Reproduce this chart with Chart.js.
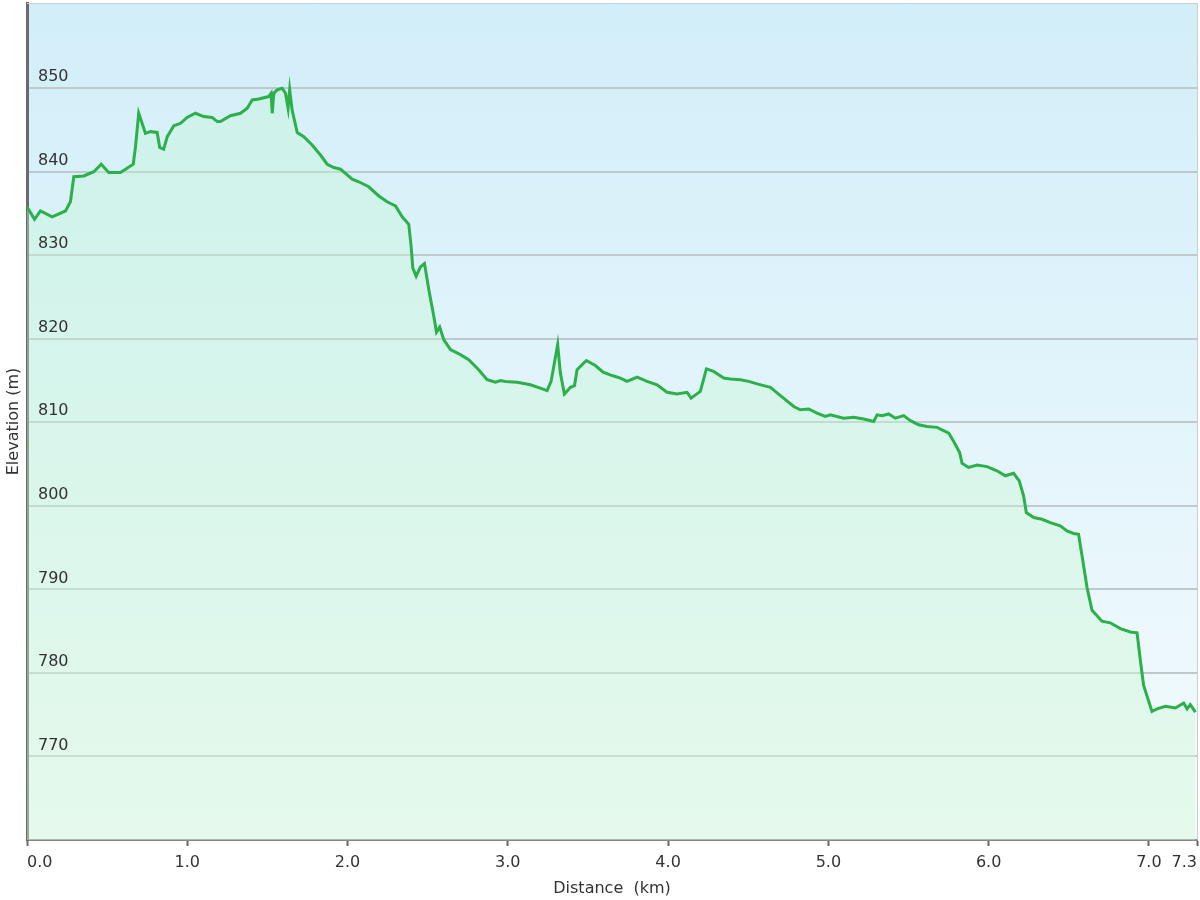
<!DOCTYPE html>
<html>
<head>
<meta charset="utf-8">
<title>Elevation profile</title>
<script src="https://cdn.jsdelivr.net/npm/chart.js@4/dist/chart.umd.min.js"></script>
<style>
  html, body { margin: 0; padding: 0; background: #ffffff; }
  #wrap { width: 1200px; height: 900px; }
</style>
</head>
<body>
<div id="wrap"><canvas id="profile" width="1200" height="900"></canvas></div>
<script>
// distance along the track (km) and elevation (m)
const distanceKm = [
  0, 0.047, 0.084, 0.157, 0.240, 0.271, 0.292, 0.354, 0.417, 0.463,
  0.510, 0.583, 0.663, 0.677, 0.697, 0.739, 0.770, 0.812, 0.828, 0.853,
  0.875, 0.916, 0.958, 0.999, 1.051, 1.103, 1.155, 1.187, 1.207, 1.269,
  1.332, 1.374, 1.405, 1.446, 1.508, 1.523, 1.530, 1.540, 1.561, 1.592,
  1.613, 1.629, 1.639, 1.654, 1.686, 1.727, 1.779, 1.831, 1.873, 1.914,
  1.956, 2.029, 2.070, 2.132, 2.195, 2.247, 2.299, 2.341, 2.382, 2.397,
  2.407, 2.428, 2.455, 2.480, 2.507, 2.538, 2.555, 2.575, 2.600, 2.642,
  2.704, 2.756, 2.818, 2.871, 2.923, 2.954, 2.985, 3.058, 3.141, 3.203,
  3.245, 3.270, 3.311, 3.328, 3.353, 3.391, 3.416, 3.432, 3.490, 3.546,
  3.595, 3.651, 3.702, 3.744, 3.807, 3.869, 3.931, 3.994, 4.056, 4.118,
  4.143, 4.201, 4.239, 4.284, 4.347, 4.389, 4.451, 4.503, 4.555, 4.638,
  4.701, 4.784, 4.825, 4.877, 4.929, 4.981, 5.012, 5.095, 5.158, 5.220,
  5.283, 5.304, 5.335, 5.376, 5.418, 5.470, 5.512, 5.563, 5.616, 5.678,
  5.751, 5.782, 5.819, 5.834, 5.875, 5.928, 5.990, 6.052, 6.104, 6.156,
  6.191, 6.218, 6.235, 6.281, 6.333, 6.385, 6.447, 6.489, 6.530, 6.561,
  6.583, 6.614, 6.645, 6.707, 6.759, 6.822, 6.884, 6.926, 6.946, 6.967,
  7.019, 7.051, 7.103, 7.165, 7.217, 7.238, 7.258, 7.290
];

const elevationM = [
  835.8, 834.3, 835.3, 834.6, 835.3, 836.4, 839.4, 839.5, 840.0, 840.9,
  839.9, 839.9, 840.9, 843.0, 847.0, 844.6, 844.8, 844.7, 842.9, 842.7,
  844.2, 845.5, 845.8, 846.5, 847.0, 846.6, 846.5, 846.0, 846.0, 846.7,
  847.0, 847.6, 848.6, 848.7, 849.0, 849.4, 847.0, 849.4, 849.8, 850.0,
  849.4, 847.6, 849.8, 847.4, 844.7, 844.2, 843.2, 842.0, 840.9, 840.5,
  840.3, 839.1, 838.8, 838.2, 837.1, 836.4, 835.9, 834.6, 833.7, 831.0,
  828.5, 827.5, 828.6, 829.0, 825.9, 822.7, 820.8, 821.4, 819.9, 818.7,
  818.1, 817.5, 816.3, 815.1, 814.8, 815.0, 814.9, 814.8, 814.5, 814.1,
  813.8, 814.9, 819.3, 815.9, 813.4, 814.2, 814.4, 816.3, 817.4, 816.8,
  816.0, 815.6, 815.3, 814.9, 815.4, 814.9, 814.5, 813.6, 813.4, 813.6,
  812.9, 813.7, 816.4, 816.1, 815.3, 815.2, 815.1, 814.9, 814.6, 814.2,
  813.2, 811.9, 811.5, 811.6, 811.1, 810.7, 810.9, 810.5, 810.6, 810.4,
  810.1, 810.9, 810.8, 811.0, 810.5, 810.8, 810.2, 809.7, 809.5, 809.4,
  808.7, 807.7, 806.4, 805.1, 804.6, 804.9, 804.7, 804.2, 803.6, 803.9,
  803.0, 801.2, 799.2, 798.6, 798.4, 798.0, 797.6, 797.0, 796.7, 796.6,
  794.0, 790.2, 787.5, 786.2, 786.0, 785.3, 784.9, 784.8, 781.6, 778.5,
  775.4, 775.7, 776.0, 775.8, 776.4, 775.7, 776.2, 775.3
];

const xTickValues = [0, 1, 2, 3, 4, 5, 6, 7, 7.3];
const yTickValues = [770, 780, 790, 800, 810, 820, 830, 840, 850];

const FONT = "'DejaVu Sans', Verdana, sans-serif";
const TEXT_COLOR = "#333333";

const points = distanceKm.map((d, i) => ({ x: d, y: elevationM[i] }));

// sky-like gradient behind the plot + thin frame on top/right
const plotBackground = {
  id: "plotBackground",
  beforeDraw(chart) {
    const { ctx, chartArea: a } = chart;
    const g = ctx.createLinearGradient(0, a.top, 0, a.bottom);
    g.addColorStop(0, "#d2eef9");
    g.addColorStop(1, "#f4fbfd");
    ctx.save();
    ctx.fillStyle = g;
    ctx.fillRect(a.left, a.top, a.right - a.left, a.bottom - a.top);
    ctx.restore();
  },
  afterDraw(chart) {
    const { ctx, chartArea: a } = chart;
    ctx.save();
    ctx.strokeStyle = "#c8cdd0";
    ctx.lineWidth = 1;
    ctx.beginPath();
    ctx.moveTo(a.left, a.top + 0.5);
    ctx.lineTo(a.right + 0.5, a.top + 0.5);
    ctx.lineTo(a.right + 0.5, a.bottom);
    ctx.stroke();
    ctx.restore();
  }
};

const areaFill = (context) => {
  const a = context.chart.chartArea;
  if (!a) return "rgba(190,245,205,0.35)";
  const g = context.chart.ctx.createLinearGradient(0, a.top, 0, a.bottom);
  g.addColorStop(0, "rgba(190,246,210,0.35)");
  g.addColorStop(1, "rgba(210,248,215,0.45)");
  return g;
};

new Chart(document.getElementById("profile"), {
  type: "line",
  data: {
    datasets: [
      {
        label: "Elevation",
        data: points,
        borderColor: "#2bb04a",
        borderWidth: 3,
        backgroundColor: areaFill,
        fill: "start",
        pointRadius: 0,
        tension: 0,
      },
    ],
  },
  options: {
    responsive: false,
    animation: false,
    layout: { padding: { top: 3, right: 3, left: 0, bottom: 0 } },
    plugins: {
      legend: { display: false },
      tooltip: { enabled: false },
    },
    scales: {
      x: {
        type: "linear",
        min: 0,
        max: 7.3,
        afterBuildTicks: (scale) => {
          scale.ticks = xTickValues.map((v) => ({ value: v }));
        },
        ticks: {
          callback: (v) => Number(v).toFixed(1),
          align: "inner",
          maxRotation: 0,
          autoSkip: false,
          padding: 7,
          color: TEXT_COLOR,
          font: { family: FONT, size: 16 },
        },
        grid: {
          drawOnChartArea: false,
          drawTicks: true,
          tickLength: 6,
          tickWidth: 2,
          tickColor: "#666666",
        },
        border: { display: true, color: "#888888", width: 2 },
        title: {
          display: true,
          text: "Distance  (km)",
          color: TEXT_COLOR,
          font: { family: FONT, size: 16 },
          padding: { top: 8, bottom: 2 },
        },
        afterFit: (scale) => {
          scale.height = 60;
          scale.paddingLeft = 0;
          scale.paddingRight = 0;
        },
      },
      y: {
        min: 760,
        max: 860.2,
        afterBuildTicks: (scale) => {
          scale.ticks = yTickValues.map((v) => ({ value: v }));
        },
        ticks: {
          z: 1, // labels sit above the line and its fill
          mirror: true,
          padding: 11,
          labelOffset: -11,
          color: TEXT_COLOR,
          font: { family: FONT, size: 16 },
        },
        grid: {
          drawTicks: false,
          color: "#bfc8cc",
          lineWidth: 2,
        },
        border: { display: true, color: "#6a6a6a", width: 3 },
        title: {
          display: true,
          text: "Elevation (m)",
          color: TEXT_COLOR,
          font: { family: FONT, size: 16 },
          padding: { top: 4, bottom: 4 },
        },
        afterFit: (scale) => {
          scale.width = 27;
          scale.paddingTop = 0;
          scale.paddingBottom = 0;
        },
      },
    },
  },
  plugins: [plotBackground],
});
</script>
</body>
</html>
